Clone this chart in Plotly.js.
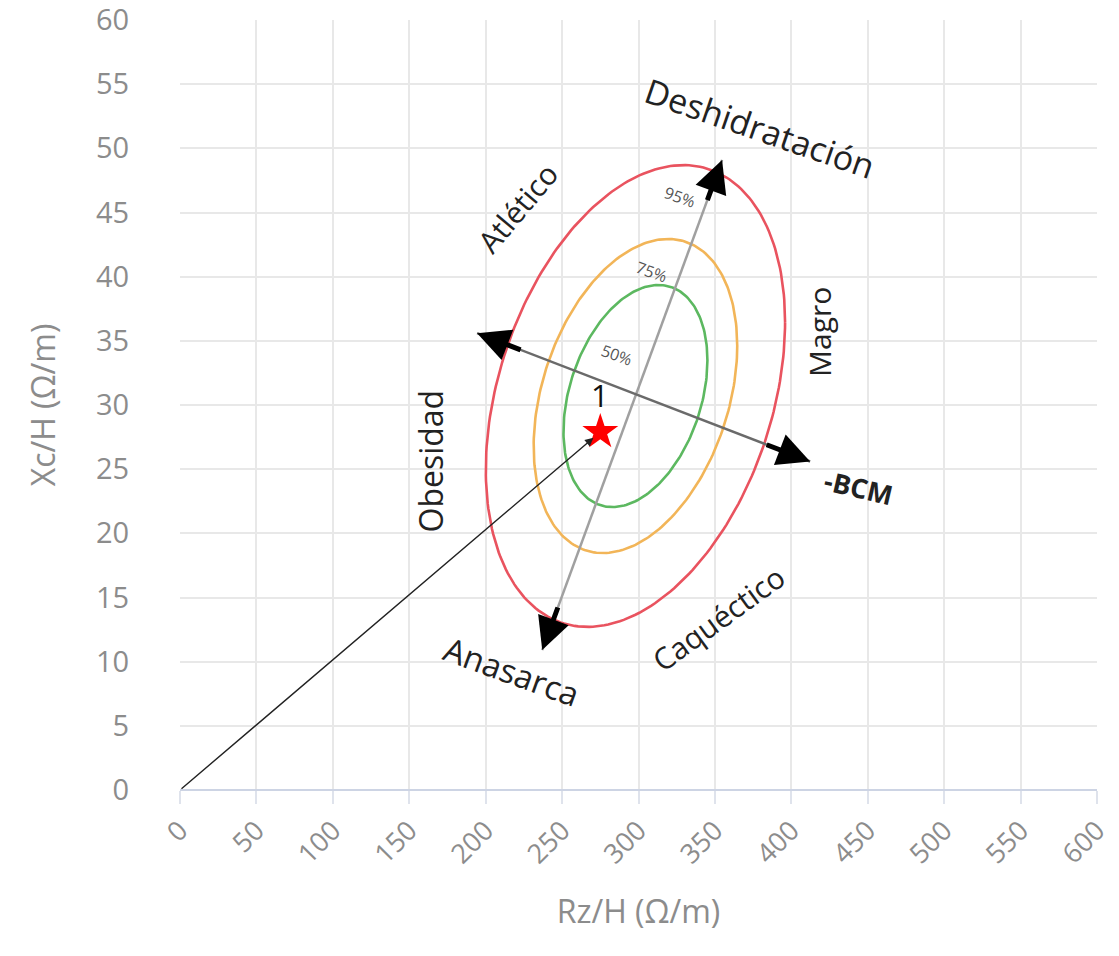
<!DOCTYPE html>
<html><head><meta charset="utf-8">
<script src="https://cdn.plot.ly/plotly-3.0.1.min.js"></script>
<style>html,body{margin:0;padding:0;background:#fff}#chart{width:1119px;height:956px}</style>
</head><body><div id="chart"></div>
<script>
// ---- data ----
const xTickVals = [0,50,100,150,200,250,300,350,400,450,500,550,600];
const yTickVals = [0,5,10,15,20,25,30,35,40,45,50,55,60];
const ellipseLabels = ['50%','75%','95%'];
const ellipseProb = [0.50,0.75,0.95];
const meanVector = [298, 30.7];      // Rz/H, Xc/H
const sdVector = [40, 7.35];         // Rz/H, Xc/H
const correlation = [0.32];
const patientRz = [275];
const patientXc = [27.9];
const patientLabel = ['1'];
const hydrationAxisRz = [237, 354.7];
const hydrationAxisXc = [10.9, 49.1];
const bcmAxisRz = [194.4, 412.3];
const bcmAxisXc = [35.6, 25.6];
const zoneLabels = ['Deshidratación','Atlético','Magro','Obesidad','Anasarca','Caquéctico','-BCM'];

// ---- presentation ----
const ellipseColors = ['#5cb860','#f2b558','#e9535f'];
const FONT = 'Open Sans, sans-serif';
const GRAY = '#8c8c8c';
const zonePos = [
  {x:379.6,y:51.6,a:19,s:34,bold:false},
  {x:221,y:45.4,a:-50,s:30,bold:false},
  {x:418.8,y:35.7,a:-90,s:30,bold:false},
  {x:163.6,y:25.6,a:-90,s:32,bold:false},
  {x:217,y:9.2,a:20,s:33,bold:false},
  {x:352,y:13.4,a:-36,s:30,bold:false},
  {x:444.5,y:23.6,a:13,s:27,bold:true}
];
const pctPos = [{x:286,y:33.9},{x:309,y:40.4},{x:327,y:46.2}];

const traces = [];
// ellipses
ellipseProb.forEach((p,i)=>{
  const k = Math.sqrt(-2*Math.log(1-p));
  const r = correlation[0];
  const xs=[], ys=[];
  for(let j=0;j<=240;j++){
    const t = 2*Math.PI*j/240;
    xs.push(meanVector[0] + k*sdVector[0]*Math.cos(t));
    ys.push(meanVector[1] + k*sdVector[1]*(r*Math.cos(t) + Math.sqrt(1-r*r)*Math.sin(t)));
  }
  traces.push({x:xs,y:ys,mode:'lines',line:{color:ellipseColors[i],width:2.6},hoverinfo:'skip'});
});
// axes lines
traces.push({x:hydrationAxisRz,y:hydrationAxisXc,mode:'lines',line:{color:'#a0a0a0',width:2.5},hoverinfo:'skip'});
traces.push({x:bcmAxisRz,y:bcmAxisXc,mode:'lines',line:{color:'#6a6a6a',width:2.5},hoverinfo:'skip'});
// patient star
traces.push({x:patientRz,y:patientXc,mode:'markers',marker:{symbol:'star',size:27,color:'#ff0000',line:{width:0}},hoverinfo:'skip'});

const annotations = [];
function endArrow(xs,ys,tipIdx,frac){
  const o = 1-tipIdx;
  const ix = xs[tipIdx] + frac*(xs[o]-xs[tipIdx]);
  const iy = ys[tipIdx] + frac*(ys[o]-ys[tipIdx]);
  annotations.push({x:xs[tipIdx],y:ys[tipIdx],ax:ix,ay:iy,xref:'x',yref:'y',axref:'x',ayref:'y',
    text:'',showarrow:true,arrowhead:2,arrowsize:1.3,arrowwidth:5,arrowcolor:'#000'});
}
endArrow(hydrationAxisRz,hydrationAxisXc,0,0.09);
endArrow(hydrationAxisRz,hydrationAxisXc,1,0.085);
endArrow(bcmAxisRz,bcmAxisXc,0,0.135);
endArrow(bcmAxisRz,bcmAxisXc,1,0.135);
// origin vector
annotations.push({x:patientRz[0],y:patientXc[0],ax:0,ay:0,xref:'x',yref:'y',axref:'x',ayref:'y',
  text:'',showarrow:true,arrowhead:2,arrowsize:1.2,arrowwidth:1.4,arrowcolor:'#222',standoff:9});
// patient label
annotations.push({x:patientRz[0],y:30.8,xref:'x',yref:'y',text:patientLabel[0],showarrow:false,
  font:{family:FONT,size:31,color:'#111'}});
// zone labels
zoneLabels.forEach((t,i)=>{
  const z = zonePos[i];
  annotations.push({x:z.x,y:z.y,xref:'x',yref:'y',text:z.bold?'<b>'+t+'</b>':t,showarrow:false,textangle:z.a,
    font:{family:FONT,size:z.s,color:'#222'}});
});
// percent labels
ellipseLabels.forEach((t,i)=>{
  annotations.push({x:pctPos[i].x,y:pctPos[i].y,xref:'x',yref:'y',text:t,showarrow:false,textangle:20,
    font:{family:FONT,size:16,color:'#555'}});
});

const layout = {
  width:1119,height:956,
  margin:{l:180,r:22,t:20,b:166},
  paper_bgcolor:'#fff',plot_bgcolor:'#fff',
  showlegend:false,hovermode:false,
  font:{family:FONT},
  xaxis:{range:[0,600],tickvals:xTickVals,ticktext:xTickVals.map(String),tickangle:-45,
    tickfont:{family:FONT,size:27,color:GRAY},gridcolor:'#e8e8e8',gridwidth:2,zeroline:false,showline:false,
    ticks:'outside',ticklen:13,tickwidth:2,tickcolor:'#dfe3ec',ticklabeloverflow:'allow',
    title:{text:'Rz/H (Ω/m)',font:{family:FONT,size:32,color:GRAY},standoff:30}},
  yaxis:{range:[0,60],tickvals:yTickVals,ticktext:yTickVals.map(String),
    tickfont:{family:FONT,size:29,color:GRAY},gridcolor:'#e8e8e8',gridwidth:2,
    zeroline:true,zerolinecolor:'#cdd4e4',zerolinewidth:2,showline:false,ticklabeloverflow:'allow',
    ticks:'outside',ticklen:44,tickcolor:'rgba(0,0,0,0)',
    title:{text:'Xc/H (Ω/m)',font:{family:FONT,size:32,color:GRAY},standoff:30}},
  annotations:annotations
};
Plotly.newPlot('chart',traces,layout,{displayModeBar:false,staticPlot:true});
</script></body></html>
